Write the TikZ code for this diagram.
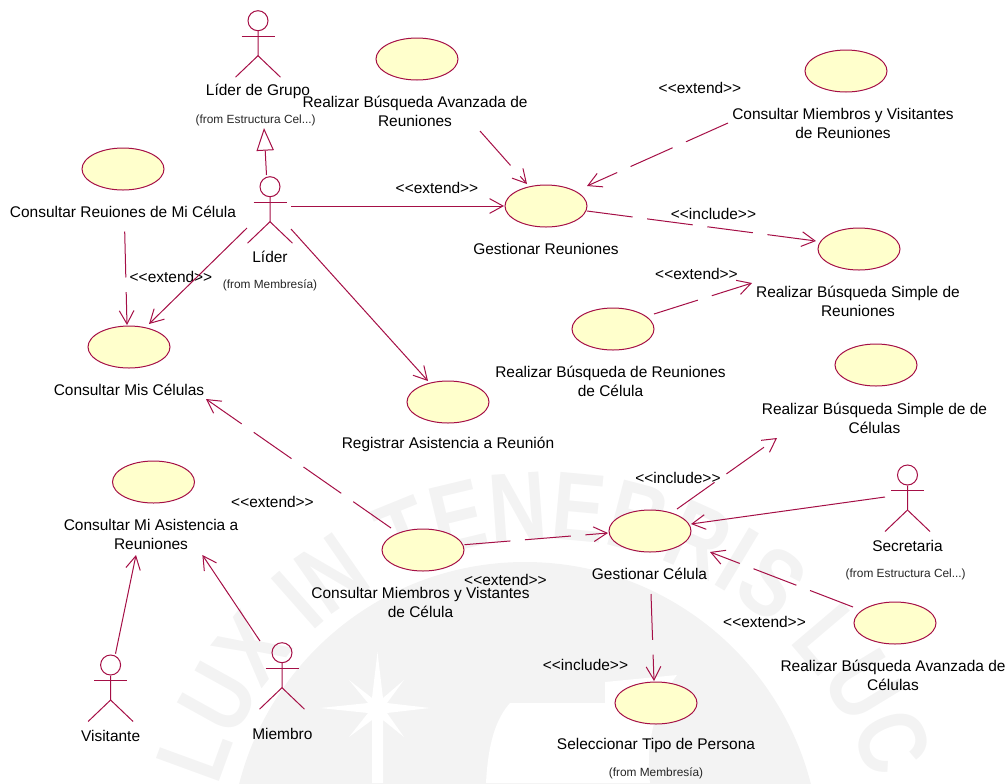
\documentclass[tikz,border=0pt]{standalone}
\usepackage{fontspec}
\setmainfont{Liberation Sans}
\usetikzlibrary{arrows.meta,shapes.geometric,decorations.text,calc}
\definecolor{umlline}{RGB}{165,15,70}
\definecolor{umlfill}{RGB}{255,255,204}
\definecolor{wmark}{RGB}{243,243,243}
\newfontfamily\wmfont[FakeStretch=0.82]{Liberation Sans Bold}
\tikzset{
  uc/.style={ellipse,draw=umlline,fill=umlfill,line width=0.75pt,minimum width=61.5pt,minimum height=31.5pt,inner sep=0pt},
  lbl/.style={align=center,font=\fontsize{11.6}{14.25}\selectfont,text=black,inner sep=0pt},
  small/.style={align=center,font=\fontsize{8.9}{10}\selectfont,text=black!85,inner sep=0pt},
  head/.style={circle,draw=umlline,line width=0.75pt,minimum size=15pt,inner sep=0pt},
  stick/.style={draw=umlline,line width=0.75pt},
  assoc/.style={draw=umlline,line width=0.75pt,-{Straight Barb[length=10pt,width=11pt,line width=0.75pt]}},
  dep/.style={assoc,dash pattern=on 34.5pt off 11pt},
  gen/.style={draw=umlline,line width=0.75pt,-{Triangle[open,length=17pt,width=13pt,line width=0.75pt,fill=white]}}
}
\newcommand{\umlactor}[3]{%
  \node[head] (#1) at (#2,#3) {};
  \draw[stick] (#1.south) -- ++(0,24.5) coordinate (#1hip) -- ++(-22.5,21.5) coordinate (#1ll);
  \draw[stick] (#1hip) -- ++(22.5,21.5) coordinate (#1rl);
  \draw[stick] ($(#1.south)+(-16.5,5)$) -- ++(33,0);
}
\begin{document}
\begin{tikzpicture}[x=0.75pt,y=-0.75pt]
\useasboundingbox (0,0) rectangle (1008,783);
% watermark
\begin{scope}
\clip (0,0) rectangle (1008,783);
\fill[wmark] (525,857) circle[radius=295];
\fill[white] (486,783) .. controls (488,745) and (495,720) .. (510,703) -- (605,703) -- (605,682) -- (677,675) .. controls (655,705) and (645,745) .. (650,783) -- cycle;
\path[postaction={decorate,decoration={text along path,text align=left,text={|\color{wmark}\wmfont\fontsize{73}{73}\selectfont|LUX IN TENEBRIS LUC}}}] (545,880) ++(196:340) arc[start angle=196,end angle=352,radius=340];
\fill[white] (377.5,652) -- (383,698) -- (404,680) -- (387,703) -- (430,708) -- (387,713) -- (404,737) -- (383,720) -- (383,783) -- (372,783) -- (372,720) -- (349,737) -- (368,713) -- (320,708) -- (368,703) -- (349,680) -- (372,698) -- cycle;
\end{scope}
% use cases
\node[uc] (avzR) at (417,59) {};
\node[uc] (reuC) at (123,169) {};
\node[uc] (misC) at (129,347) {};
\node[uc] (miemR) at (846,71) {};
\node[uc] (gesR) at (546,206) {};
\node[uc] (simR) at (859,249) {};
\node[uc] (celR) at (613,329) {};
\node[uc] (simC) at (876,365) {};
\node[uc] (gesC) at (650,531) {};
\node[uc] (avzC) at (895,623) {};
\node[uc] (selP) at (656,703) {};
\node[uc] (reg) at (448,402) {};
\node[uc] (asis) at (153.5,482) {};
\node[uc] (miemC) at (423,550) {};
% actors
\umlactor{aGrupo}{258}{20.7}
\umlactor{aLider}{270}{186.7}
\umlactor{aSecre}{907.5}{475}
\umlactor{aVisi}{110.6}{665}
\umlactor{aMiem}{282}{652.7}
% labels
\node[lbl] (tGrupo) at (258,91.5) {Líder de Grupo};
\node[small] (fGrupo) at (255.7,120) {(from Estructura Cel...)};
\node[lbl] (tAvzR) at (415,111) {Realizar Búsqueda Avanzada de\\Reuniones};
\node[lbl] (tReuC) at (123,211.5) {Consultar Reuiones de Mi Célula};
\node[lbl] (tLider) at (270,256.5) {Líder};
\node[small] (fLider) at (270,285) {(from Membresía)};
\node[lbl] (x1) at (171,277) {<{}<extend>{}>};
\node[lbl] (x2) at (437,188) {<{}<extend>{}>};
\node[lbl] (tMisC) at (129,389.5) {Consultar Mis Células};
\node[lbl] (tGesR) at (546,248.5) {Gestionar Reuniones};
\node[lbl] (x3) at (700,87.5) {<{}<extend>{}>};
\node[lbl] (tMiemR) at (843,123) {Consultar Miembros y Visitantes\\de Reuniones};
\node[lbl] (i1) at (713.5,213.5) {<{}<include>{}>};
\node[lbl] (x4) at (696.5,274) {<{}<extend>{}>};
\node[lbl] (tSimR) at (858,301) {Realizar Búsqueda Simple de\\Reuniones};
\node[lbl] (tCelR) at (610.5,381) {Realizar Búsqueda de Reuniones\\de Célula};
\node[lbl] (tReg) at (448,444.5) {Registrar Asistencia a Reunión};
\node[lbl] (tSimC) at (874.5,418.5) {Realizar Búsqueda Simple de de\\Células};
\node[lbl] (i2) at (678,477.5) {<{}<include>{}>};
\node[lbl] (tSecre) at (907.5,545.5) {Secretaria};
\node[small] (fSecre) at (905.7,574) {(from Estructura Cel...)};
\node[lbl] (tGesC) at (649.5,573.5) {Gestionar Célula};
\node[lbl] (x5) at (764.5,622) {<{}<extend>{}>};
\node[lbl] (tAvzC) at (893,675.5) {Realizar Búsqueda Avanzada de\\Células};
\node[lbl] (i3) at (585.5,665) {<{}<include>{}>};
\node[lbl] (tSelP) at (656,745.5) {Seleccionar Tipo de Persona};
\node[small] (fSelP) at (656,773) {(from Membresía)};
\node[lbl] (tAsis) at (151,534) {Consultar Mi Asistencia a\\Reuniones};
\node[lbl] (x6) at (272.5,501.5) {<{}<extend>{}>};
\node[lbl] (tMiemC) at (420.5,602.5) {Consultar Miembros y Vistantes\\de Célula};
\node[lbl] (x7) at (505.5,580) {<{}<extend>{}>};
\node[lbl] (tVisi) at (110.6,735.5) {Visitante};
\node[lbl] (tMiem) at (282.4,733.5) {Miembro};
% connector ends
\coordinate (cGrupoTip) at (264,128);
\coordinate (cLidTop) at (266.5,175);
\coordinate (cLidR) at (291,206);
\coordinate (cLidLow) at (247,228);
\coordinate (cLidLowR) at (291,229);
\coordinate (cGesRW) at (504,206);
\coordinate (cMisTipA) at (149,324);
\coordinate (cRegTip) at (428,381);
\coordinate (cReuS) at (124.7,231.5);
\coordinate (cMisTipB) at (127,325);
\coordinate (cAvzRS) at (480,131);
\coordinate (cGesRT) at (527,184);
\coordinate (cMiemRS) at (728,123);
\coordinate (cGesRE) at (587,186);
\coordinate (cGesRO) at (587,211);
\coordinate (cSimRT) at (816,241);
\coordinate (cCelRO) at (654,314);
\coordinate (cSimRS) at (752,283);
\coordinate (cMiemCN) at (391,528);
\coordinate (cMisS) at (206,399);
\coordinate (cMiemCE) at (464.5,544.7);
\coordinate (cGesCW) at (608,533);
\coordinate (cVisiUp) at (115.5,653.7);
\coordinate (cAsisA) at (136,555);
\coordinate (cMiemUp) at (260,641);
\coordinate (cAsisB) at (202.4,555);
\coordinate (cGesCO) at (677,509);
\coordinate (cSimCS) at (777,438);
\coordinate (cSecL) at (885,497);
\coordinate (cGesCE) at (691,524);
\coordinate (cAvzCO) at (853,607);
\coordinate (cGesCS) at (710,552);
\coordinate (cGesCB) at (651,594);
\coordinate (cSelT) at (654,681);
% connectors
\draw[gen] (cLidTop) -- (cGrupoTip);
\draw[assoc] (cLidR) -- (cGesRW);
\draw[assoc] (cLidLow) -- (cMisTipA);
\draw[assoc] (cLidLowR) -- (cRegTip);
\draw[dep] (cReuS) -- (cMisTipB);
\draw[dep] (cAvzRS) -- (cGesRT);
\draw[dep] (cMiemRS) -- (cGesRE);
\draw[dep] (cGesRO) -- (cSimRT);
\draw[dep] (cCelRO) -- (cSimRS);
\draw[dep] (cMiemCN) -- (cMisS);
\draw[dep] (cMiemCE) -- (cGesCW);
\draw[assoc] (cVisiUp) -- (cAsisA);
\draw[assoc] (cMiemUp) -- (cAsisB);
\draw[dep] (cGesCO) -- (cSimCS);
\draw[assoc] (cSecL) -- (cGesCE);
\draw[dep] (cAvzCO) -- (cGesCS);
\draw[dep] (cGesCB) -- (cSelT);
\end{tikzpicture}
\end{document}
